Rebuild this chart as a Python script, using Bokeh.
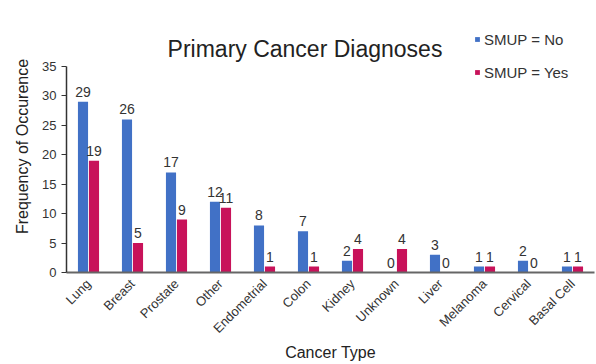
import math
from bokeh.plotting import figure
from bokeh.models import ColumnDataSource, Label, Legend, LegendItem, FactorRange
from bokeh.transform import dodge
from bokeh.core.properties import value
from bokeh.embed import file_html
from bokeh.resources import INLINE

categories = ["Lung", "Breast", "Prostate", "Other", "Endometrial", "Colon",
              "Kidney", "Unknown", "Liver", "Melanoma", "Cervical", "Basal Cell"]
smup_no = [29, 26, 17, 12, 8, 7, 2, 0, 3, 1, 2, 1]
smup_yes = [19, 5, 9, 11, 1, 1, 4, 4, 0, 1, 0, 1]
y_ticks = [0, 5, 10, 15, 20, 25, 30, 35]

BLUE = "#4171C6"
RED = "#C8125A"
FONT = "Liberation Sans"

src = ColumnDataSource(dict(cat=categories, no=smup_no, yes=smup_yes,
                            no_lbl=[str(v) for v in smup_no],
                            yes_lbl=[str(v) for v in smup_yes]))

p = figure(x_range=FactorRange(*categories), y_range=(0, 42.8),
           width=596, height=364, output_backend="svg", toolbar_location=None,
           min_border_left=66, min_border_right=2, min_border_top=20,
           min_border_bottom=91)
p.outline_line_color = None
p.xgrid.grid_line_color = None
p.ygrid.grid_line_color = None
p.x_range.range_padding = 0

bw = 0.23
r_no = p.vbar(x=dodge("cat", -0.125, range=p.x_range), top="no", width=bw,
              source=src, fill_color=BLUE, line_color=None)
r_yes = p.vbar(x=dodge("cat", 0.125, range=p.x_range), top="yes", width=bw,
               source=src, fill_color=RED, line_color=None)

p.text(x=dodge("cat", -0.125, range=p.x_range), y="no", text="no_lbl", source=src,
       text_align="center", text_baseline="bottom", y_offset=-5,
       text_font=value(FONT), text_font_size="14px", text_color="#333333")
p.text(x=dodge("cat", 0.125, range=p.x_range), y="yes", text="yes_lbl", source=src,
       text_align="center", text_baseline="bottom", y_offset=-5,
       text_font=value(FONT), text_font_size="14px", text_color="#333333")

# title inside frame area
p.add_layout(Label(x=5.42, y=38.0, text="Primary Cancer Diagnoses",
                   text_align="center", text_baseline="middle",
                   text_font=FONT, text_font_size="23px", text_color="#222222"))

legend = Legend(items=[LegendItem(label="SMUP = No", renderers=[r_no]),
                       LegendItem(label="SMUP = Yes", renderers=[r_yes])],
                location=(408, 190), orientation="vertical",
                glyph_width=6, glyph_height=6, label_height=20,
                label_standoff=4, spacing=13,
                padding=0, margin=0, border_line_color=None,
                background_fill_alpha=0,
                label_text_font=FONT, label_text_font_size="15px",
                label_text_color="#333333")
p.add_layout(legend)

# y axis
ya = p.yaxis[0]
ya.bounds = (0, 35)
ya.ticker = y_ticks
ya.minor_tick_line_color = None
ya.major_tick_out = 5
ya.major_tick_in = 0
ya.axis_line_color = "#333333"
ya.axis_line_width = 1.5
ya.major_tick_line_color = "#333333"
ya.major_label_text_font = FONT
ya.major_label_text_font_size = "13px"
ya.major_label_text_color = "#333333"
ya.axis_label = "Frequency of Occurence"
ya.axis_label_text_font = FONT
ya.axis_label_text_font_size = "16px"
ya.axis_label_text_font_style = "normal"
ya.axis_label_text_color = "#222222"
ya.axis_label_standoff = 8

# x axis
xa = p.xaxis[0]
xa.major_label_orientation = math.pi / 4
xa.axis_line_color = "#666666"
xa.axis_line_width = 2
xa.major_tick_line_color = None
xa.major_label_standoff = 3
xa.major_label_text_font = FONT
xa.major_label_text_font_size = "13px"
xa.major_label_text_color = "#333333"
xa.axis_label = "Cancer Type"
xa.axis_label_text_font = FONT
xa.axis_label_text_font_size = "16px"
xa.axis_label_text_font_style = "normal"
xa.axis_label_text_color = "#222222"
xa.axis_label_standoff = 0

open("out.html", "w").write(file_html(p, INLINE))
